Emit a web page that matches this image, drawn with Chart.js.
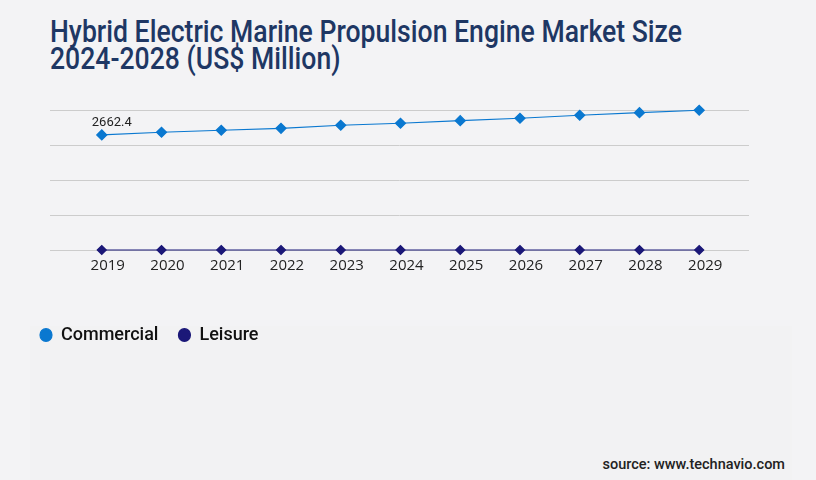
<!DOCTYPE html>
<html>
<head>
<meta charset="utf-8">
<script src="https://cdn.jsdelivr.net/npm/chart.js@4.4.1/dist/chart.umd.min.js"></script>
<style>
  html, body { margin: 0; padding: 0; }
  body { width: 816px; height: 480px; background: #f3f3f5; position: relative; overflow: hidden; }
  #panel { position: absolute; left: 30px; top: 326px; width: 762px; height: 154px; background: #f2f2f3; }
  #title { position: absolute; left: 50px; top: 18px; margin: 0; font-family: Roboto, sans-serif; font-weight: 500;
    font-size: 31px; line-height: 27px; color: #1e3764; transform-origin: 0 0; white-space: nowrap; }
  #wrap { position: absolute; left: 0; top: 90px; width: 816px; height: 264px; }
  #source { position: absolute; right: 31px; top: 456px; font-family: Roboto, sans-serif; font-weight: 500;
    font-size: 14.5px; color: #222; }
</style>
</head>
<body>
<div id="panel"></div>
<h1 id="title"><span>Hybrid Electric Marine Propulsion Engine Market Size</span><br><span>2024-2028 (US$ Million)</span></h1>
<div id="wrap"><canvas id="myChart"></canvas></div>
<div id="source">source: www.technavio.com</div>
<script>
const years = [2019, 2020, 2021, 2022, 2023, 2024, 2025, 2026, 2027, 2028, 2029];
const commercial = [2662.4, 2725, 2771, 2817, 2887, 2933, 2994, 3049, 3118, 3179, 3234];
const leisure = [0, 0, 0, 0, 0, 0, 0, 0, 0, 0, 0];
const seriesNames = ["Commercial", "Leisure"];

// squeeze the title to the narrow width of the original
(function () {
	const t = document.getElementById("title");
	const w = t.querySelector("span").getBoundingClientRect().width;
	t.style.transform = "scaleX(" + (632 / w) + ")";
})();

const firstLabel = {
	id: "firstLabel",
	afterDatasetsDraw(chart) {
		const el = chart.getDatasetMeta(0).data[0];
		const ctx = chart.ctx;
		ctx.save();
		ctx.font = "13px Roboto";
		ctx.fillStyle = "#222";
		ctx.textAlign = "center";
		ctx.textBaseline = "alphabetic";
		ctx.fillText(commercial[0].toFixed(1), el.x + 10, el.y - 9);
		ctx.restore();
	}
};

function cateChart(id) {
	const data = {
		datasets: [{
			label: seriesNames[0],
			data: years.map((y, i) => ({ x: y, y: commercial[i] })),
			borderColor: "#0a78d0",
			backgroundColor: "#0a78d0",
			borderWidth: 1.2,
			pointStyle: "rectRot",
			pointRadius: 5,
			pointHoverRadius: 5
		}, {
			label: seriesNames[1],
			data: years.map((y, i) => ({ x: y, y: leisure[i] })),
			borderColor: "#1b1878",
			backgroundColor: "#1b1878",
			borderWidth: 1.2,
			pointStyle: "rectRot",
			pointRadius: 4.5,
			pointHoverRadius: 4.5
		}]
	};
	const config = {
		type: "line",
		data: data,
		plugins: [firstLabel],
		options: {
			responsive: true,
			maintainAspectRatio: false,
			animation: false,
			clip: false,
			layout: { padding: { left: 20, right: 67, top: 20, bottom: 0 } },
			scales: {
				x: {
					type: "linear",
					min: 2019 - 52 / 60,
					max: 2029 + 50 / 60,
					afterBuildTicks(scale) { scale.ticks = years.map(v => ({ value: v })); },
					afterFit(scale) { scale.height = 56; },
					grid: { display: false },
					border: { display: false },
					ticks: {
						callback: v => String(v),
						labelOffset: 6,
						padding: -1,
						color: "#222",
						font: { family: "Open Sans", size: 15 }
					}
				},
				y: {
					min: 0,
					max: 3240,
					afterFit(scale) { scale.width = 30; },
					grid: { color: "#cccccc", drawTicks: false },
					border: { display: false },
					ticks: { display: false, stepSize: 810 }
				}
			},
			plugins: {
				legend: {
					position: "bottom",
					align: "start",
					labels: {
						usePointStyle: true,
						pointStyle: "circle",
						boxHeight: 9,
						pointStyleWidth: 12,
						padding: 20,
						color: "#111",
						font: { family: "Roboto", size: 18, weight: "500" }
					}
				},
				tooltip: { enabled: false }
			}
		}
	};
	const ctx = document.getElementById(id).getContext("2d");
	new Chart(ctx, config);
}

cateChart("myChart");
</script>
</body>
</html>
